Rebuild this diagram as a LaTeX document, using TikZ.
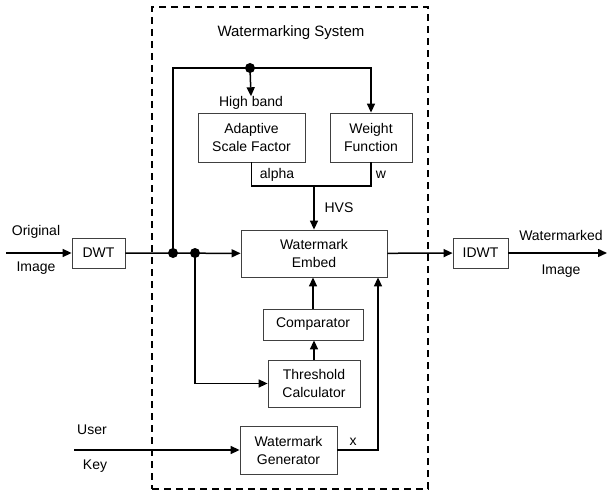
\documentclass[tikz,border=0pt]{standalone}
\usepackage{fontspec}
\setmainfont{Liberation Sans}
\usetikzlibrary{arrows.meta,positioning,calc}

\begin{document}
\begin{tikzpicture}[x=1pt,y=-1pt,
  block/.style={draw=black!75,line width=0.8pt,align=center,inner sep=0pt,
               font=\fontsize{14}{18}\selectfont},
  lbl/.style={inner sep=0pt,font=\fontsize{14}{18}\selectfont},
  wire/.style={line width=1.5pt},
  flow/.style={wire,-{Triangle[length=9pt,width=8pt]}},
  dot/.style={circle,fill,inner sep=0pt,minimum size=10pt},
  sysbox/.style={draw,line width=1.4pt,dash pattern=on 7pt off 5pt},
]
  \useasboundingbox (0,0) rectangle (608,495);

  % system boundary
  \node[sysbox,minimum width=276pt,minimum height=482pt] (sys) at (290,248) {};
  \node[lbl,font=\fontsize{15}{18}\selectfont] (title) at (291,33) {Watermarking System};

  % blocks
  \node[block,minimum width=53pt,minimum height=30pt]  (dwt)   at (98.5,253) {DWT};
  \node[block,minimum width=55pt,minimum height=30pt]  (idwt)  at (480.5,253) {IDWT};
  \node[block,minimum width=146pt,minimum height=47pt] (embed) at (314,253.5) {Watermark\\Embed};
  \node[block,minimum width=107pt,minimum height=49pt] (asf)   at (251.5,137.5) {Adaptive\\Scale Factor};
  \node[block,minimum width=82pt,minimum height=49pt]  (wf)    at (371,137.5) {Weight\\Function};
  \node[block,minimum width=100pt,minimum height=31pt] (comp)  at (313,324.5) {Comparator};
  \node[block,minimum width=92pt,minimum height=47pt]  (thr)   at (314,383.5) {Threshold\\Calculator};
  \node[block,minimum width=97pt,minimum height=48pt]  (gen)   at (288.5,450) {Watermark\\Generator};

  % labels
  \node[lbl] (hb)    at (251,103) {High band};
  \node[lbl] (alpha) at (277,175) {alpha};
  \node[lbl] (w)     at (381,175) {w};
  \node[lbl] (hvs)   at (339,208) {HVS};
  \node[lbl] (orig)  at (36,232)  {Original};
  \node[lbl] (img1)  at (36,268)  {Image};
  \node[lbl] (wmd)   at (561,235) {Watermarked};
  \node[lbl] (img2)  at (561,271) {Image};
  \node[lbl] (user)  at (92,430)  {User};
  \node[lbl] (key)   at (95,466)  {Key};
  \node[lbl] (xl)    at (353,442) {x};

  % junctions
  \node[dot] (j1) at (173,253) {};
  \node[dot] (j2) at (195,253) {};
  \node[dot] (j3) at (250,68) {};

  \coordinate (src)  at (6,253);
  \coordinate (dst)  at (607,253);
  \coordinate (busl) at (173,68);
  \coordinate (hvsl) at (asf.south |- 0,186);
  \coordinate (hvsc) at (embed.north |- hvsl);
  \coordinate (usr)  at (74,450);
  \coordinate (xc)   at (378,450);

  % connectors
  \draw[flow] (src) -- (dwt);
  \draw[flow] (dwt) -- (embed);
  \draw[flow] (embed) -- (idwt);
  \draw[flow] (idwt) -- (dst);
  \draw[flow] (j1.center) -- (busl) -| (wf.north);
  \draw[flow] (j3.center) -- (hb.north);
  \draw[flow] (j2.center) |- (thr.west);
  \draw[wire] (asf.south) -- (hvsl) -| (wf.south);
  \draw[flow] (hvsc) -- (embed.north);
  \draw[flow] (thr.north) -- (thr.north |- comp.south);
  \draw[flow] (comp.north) -- (comp.north |- embed.south);
  \draw[flow] (usr) -- (gen);
  \draw[flow] (gen.east) -- (xc) -- (xc |- embed.south);
\end{tikzpicture}
\end{document}
